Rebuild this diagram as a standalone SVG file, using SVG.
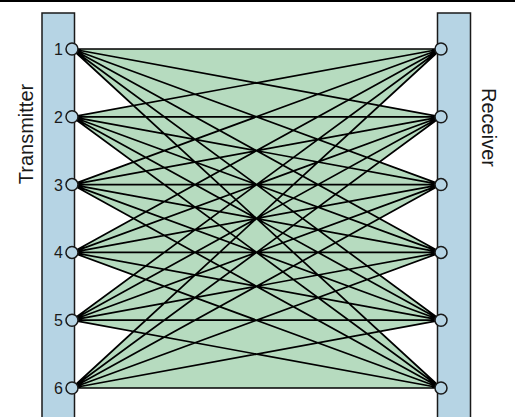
<svg xmlns="http://www.w3.org/2000/svg" width="515" height="417" viewBox="0 0 515 417">
<style>
.bar{fill:#b6d4e4;stroke:#1a1a1a;stroke-width:1.5}
.port{fill:#b6d4e4;stroke:#1a1a1a;stroke-width:1.5}
.ln{stroke:#000;stroke-width:1.7;fill:none}
.num{font-family:"Liberation Sans",Arial,sans-serif;font-size:16px;fill:#1a1a1a;text-anchor:end}
.ttl{font-family:"Liberation Sans",Arial,sans-serif;font-size:20px;fill:#1a1a1a;text-anchor:middle}
</style>
<rect width="515" height="417" fill="#fff"/>
<line x1="0" y1="1" x2="515" y2="1" stroke="#000" stroke-width="2"/>
<g id="transmitter">
<rect class="bar" x="42" y="13" width="32.5" height="410"/>
<text class="ttl" transform="translate(33,134) rotate(-90)">Transmitter</text>
</g>
<g id="receiver">
<rect class="bar" x="437.5" y="13" width="33" height="410"/>
<text class="ttl" transform="translate(482,127.5) rotate(90)">Receiver</text>
</g>
<polygon id="channel" fill="#b6dbbf" points="72,49 133.5,105.5 72,116.8 133.5,162 72,184.6 133.5,218.5 72,252.4 133.5,275 72,320.2 133.5,331.5 72,388 441,388 379.5,331.5 441,320.2 379.5,275 441,252.4 379.5,218.5 441,184.6 379.5,162 441,116.8 379.5,105.5 441,49"/>
<g id="connectors" class="ln">
<path d="M72,49L441,49M72,49L441,116.8M72,49L441,184.6M72,49L441,252.4M72,49L441,320.2M72,49L441,388
M72,116.8L441,49M72,116.8L441,116.8M72,116.8L441,184.6M72,116.8L441,252.4M72,116.8L441,320.2M72,116.8L441,388
M72,184.6L441,49M72,184.6L441,116.8M72,184.6L441,184.6M72,184.6L441,252.4M72,184.6L441,320.2M72,184.6L441,388
M72,252.4L441,49M72,252.4L441,116.8M72,252.4L441,184.6M72,252.4L441,252.4M72,252.4L441,320.2M72,252.4L441,388
M72,320.2L441,49M72,320.2L441,116.8M72,320.2L441,184.6M72,320.2L441,252.4M72,320.2L441,320.2M72,320.2L441,388
M72,388L441,49M72,388L441,116.8M72,388L441,184.6M72,388L441,252.4M72,388L441,320.2M72,388L441,388"/>
</g>
<g id="tx1"><circle class="port" cx="72" cy="49" r="6"/><text class="num" x="63" y="55">1</text></g>
<g id="tx2"><circle class="port" cx="72" cy="116.8" r="6"/><text class="num" x="63" y="122.8">2</text></g>
<g id="tx3"><circle class="port" cx="72" cy="184.6" r="6"/><text class="num" x="63" y="190.6">3</text></g>
<g id="tx4"><circle class="port" cx="72" cy="252.4" r="6"/><text class="num" x="63" y="258.4">4</text></g>
<g id="tx5"><circle class="port" cx="72" cy="320.2" r="6"/><text class="num" x="63" y="326.2">5</text></g>
<g id="tx6"><circle class="port" cx="72" cy="388" r="6"/><text class="num" x="63" y="394">6</text></g>
<g id="rx1"><circle class="port" cx="441" cy="49" r="6"/></g>
<g id="rx2"><circle class="port" cx="441" cy="116.8" r="6"/></g>
<g id="rx3"><circle class="port" cx="441" cy="184.6" r="6"/></g>
<g id="rx4"><circle class="port" cx="441" cy="252.4" r="6"/></g>
<g id="rx5"><circle class="port" cx="441" cy="320.2" r="6"/></g>
<g id="rx6"><circle class="port" cx="441" cy="388" r="6"/></g>
</svg>
